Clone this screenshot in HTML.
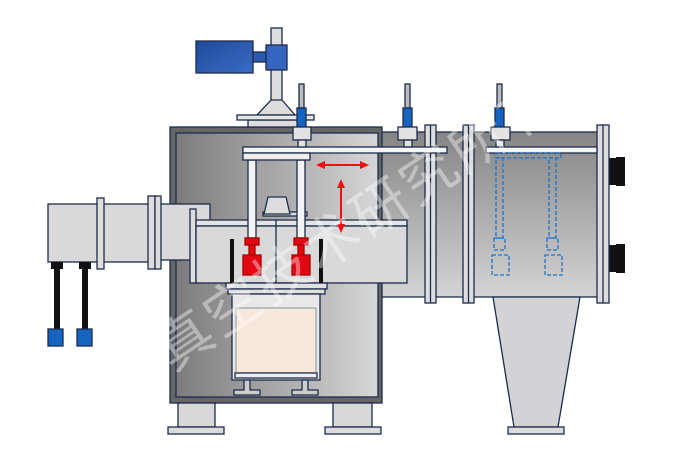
<!DOCTYPE html>
<html><head><meta charset="utf-8"><style>
html,body{margin:0;padding:0;background:#fff;width:700px;height:466px;overflow:hidden}
svg{display:block}
</style></head><body>
<svg width="700" height="466" viewBox="0 0 700 466" xmlns="http://www.w3.org/2000/svg">
<defs>
<linearGradient id="ch" x1="0" y1="0" x2="1" y2="0"><stop offset="0" stop-color="#7c7c7c"/><stop offset="1" stop-color="#d6d6d6"/></linearGradient>
<linearGradient id="bd" x1="0" y1="0" x2="0" y2="1"><stop offset="0" stop-color="#858585"/><stop offset="1" stop-color="#d4d4d4"/></linearGradient>
<linearGradient id="bl" x1="0" y1="0" x2="1" y2="1"><stop offset="0" stop-color="#1f4a9a"/><stop offset="1" stop-color="#3a6cc4"/></linearGradient>
</defs>
<g stroke="#1d2b4a" stroke-width="1.3">
<rect x="380" y="132" width="218" height="165" fill="url(#bd)"/>
<polygon points="493,297 580,297 558,427 514,427" fill="#d3d2d4"/>
<rect x="508" y="427" width="56" height="7" fill="#dcdcdc"/>
<rect x="609" y="158" width="8" height="27" fill="#111" stroke="none"/>
<rect x="616" y="157" width="9" height="29" fill="#111" stroke="none"/>
<rect x="609" y="245" width="8" height="27" fill="#111" stroke="none"/>
<rect x="616" y="244" width="9" height="29" fill="#111" stroke="none"/>
<rect x="597" y="125" width="12" height="178" fill="#ddd"/>
<line x1="603" y1="125" x2="603" y2="303"/>
<rect x="425" y="125" width="11" height="178" fill="#ddd"/>
<line x1="430.5" y1="125" x2="430.5" y2="303"/>
<rect x="463" y="125" width="11" height="178" fill="#ddd"/>
<line x1="468.5" y1="125" x2="468.5" y2="303"/>
<rect x="170" y="127" width="212" height="276" fill="#666"/>
<rect x="176" y="133" width="202" height="264" fill="url(#ch)"/>
<rect x="178" y="403" width="37" height="24" fill="#d8d8d8"/>
<rect x="168" y="427" width="56" height="7" fill="#dcdcdc"/>
<rect x="333" y="403" width="39" height="24" fill="#d8d8d8"/>
<rect x="325" y="427" width="56" height="7" fill="#dcdcdc"/>
<rect x="48" y="204" width="52" height="58" fill="#d9d9d9"/>
<rect x="100" y="204" width="50" height="58" fill="#d9d9d9"/>
<rect x="97" y="198" width="7" height="71" fill="#ddd"/>
<rect x="150" y="204" width="60" height="56" fill="#d9d9d9"/>
<rect x="148" y="196" width="7" height="73" fill="#ddd"/>
<rect x="155" y="196" width="6" height="73" fill="#ddd"/>
<rect x="190" y="209" width="6" height="74" fill="#ddd"/>
<rect x="51" y="262" width="12" height="7" fill="#111" stroke="none"/>
<rect x="54" y="268" width="6" height="62" fill="#111" stroke="none"/>
<rect x="48" y="329" width="15" height="17" fill="#1565c0"/>
<rect x="79" y="262" width="12" height="7" fill="#111" stroke="none"/>
<rect x="82" y="268" width="6" height="62" fill="#111" stroke="none"/>
<rect x="77" y="329" width="15" height="17" fill="#1565c0"/>
<rect x="263" y="212" width="44" height="4" fill="#ddd"/>
<polygon points="268,197 286,197 290,214 264,214" fill="#ddd"/>
<rect x="196" y="220" width="211" height="6" fill="#e4e4e4"/>
<rect x="196" y="226" width="211" height="57" fill="#d9d9d9"/>
<line x1="276" y1="220" x2="276" y2="283"/>
<rect x="226" y="283" width="101" height="6" fill="#e0e0e0"/>
<rect x="228" y="289" width="97" height="5" fill="#e0e0e0"/>
<rect x="232" y="294" width="88" height="86" fill="#e8e8e8"/>
<rect x="236" y="308" width="80" height="65" fill="#f8e6da" stroke="#9aa"/>
<rect x="235" y="373" width="82" height="5" fill="#eee"/>
<path d="M244,380 h6 v10 h10 v5 h-26 v-5 h10z" fill="#ccc"/>
<path d="M302,380 h6 v10 h10 v5 h-26 v-5 h10z" fill="#ccc"/>
</g>
<rect x="230" y="239" width="4" height="44" fill="#111"/>
<rect x="319" y="239" width="4" height="44" fill="#111"/>
<g stroke="#1d2b4a" stroke-width="1.3">
<rect x="248" y="160" width="8" height="78" fill="#f2f2f2"/>
<rect x="297" y="160" width="8" height="78" fill="#f2f2f2"/>
<rect x="243" y="147" width="204" height="6" fill="#f4f4f4"/>
<rect x="243" y="153" width="67" height="7" fill="#eee"/>
<rect x="486" y="147" width="111" height="6" fill="#f4f4f4"/>
<rect x="245" y="238" width="14" height="7" fill="#e30613" stroke="#a00"/>
<rect x="249" y="245" width="6" height="10" fill="#e30613" stroke="#a00"/>
<rect x="243" y="255" width="18" height="20" fill="#e30613" stroke="#a00"/>
<rect x="294" y="238" width="14" height="7" fill="#e30613" stroke="#a00"/>
<rect x="298" y="245" width="6" height="10" fill="#e30613" stroke="#a00"/>
<rect x="292" y="255" width="18" height="20" fill="#e30613" stroke="#a00"/>
<rect x="271" y="28" width="11" height="87" fill="#ddd"/>
<polygon points="271,100 282,100 295,115 257,115" fill="#ddd"/>
<rect x="248" y="120" width="52" height="7" fill="#ddd"/>
<rect x="237" y="115" width="77" height="5" fill="#e6e6e6"/>
<rect x="196" y="41" width="57" height="32" fill="url(#bl)"/>
<rect x="253" y="52" width="13" height="10" fill="#2a5bb0"/>
<rect x="266" y="45" width="21" height="25" fill="#3465c0"/>
<rect x="299" y="84" width="5" height="24" fill="#bbb"/>
<rect x="297" y="108" width="9" height="19" fill="#1565c0"/>
<rect x="293" y="127" width="18" height="13" fill="#e2e2e2"/>
<rect x="298" y="140" width="8" height="7" fill="#e2e2e2"/>
<rect x="405" y="84" width="5" height="24" fill="#bbb"/>
<rect x="403" y="108" width="9" height="19" fill="#1565c0"/>
<rect x="398" y="127" width="19" height="13" fill="#e2e2e2"/>
<rect x="404" y="140" width="8" height="7" fill="#e2e2e2"/>
<rect x="497" y="84" width="5" height="24" fill="#bbb"/>
<rect x="495" y="108" width="9" height="19" fill="#1565c0"/>
<rect x="491" y="127" width="19" height="13" fill="#e2e2e2"/>
<rect x="496" y="140" width="8" height="7" fill="#e2e2e2"/>
</g>
<g fill="none" stroke="#1e73c8" stroke-width="1.3" stroke-dasharray="4,2">
<rect x="496" y="153" width="65" height="5"/>
<rect x="496" y="158" width="7" height="80"/>
<rect x="549" y="158" width="7" height="80"/>
<rect x="494" y="238" width="11" height="12"/>
<rect x="547" y="238" width="11" height="12"/>
<rect x="492" y="255" width="17" height="20"/>
<rect x="545" y="255" width="17" height="20"/>
</g>
<g stroke="#ee1111" stroke-width="2" fill="#ee1111">
<line x1="323" y1="165" x2="362" y2="165"/>
<polygon points="316,165 325,161 325,169" stroke="none"/>
<polygon points="369,165 360,161 360,169" stroke="none"/>
<line x1="341" y1="186" x2="341" y2="226"/>
<polygon points="341,179 337,188 345,188" stroke="none"/>
<polygon points="341,233 337,224 345,224" stroke="none"/>
</g>
<text x="0" y="0" transform="translate(172,372) rotate(-34)" font-family="Liberation Sans,Noto Sans CJK SC,sans-serif" font-size="56" letter-spacing="3" fill="#fff" fill-opacity="0.4">真空技术研究所有限公</text>
</svg>
</body></html>
